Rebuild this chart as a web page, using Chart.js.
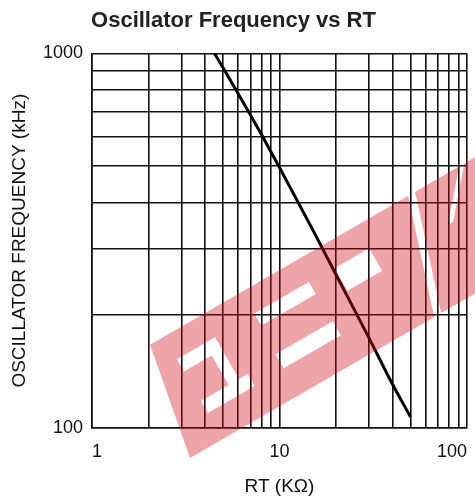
<!DOCTYPE html>
<html>
<head>
<meta charset="utf-8">
<script src="https://cdn.jsdelivr.net/npm/chart.js@4/dist/chart.umd.min.js"></script>
<style>
  html, body { margin: 0; padding: 0; background: #fff; }
  #wrap { width: 475px; height: 504px; position: relative; }
</style>
</head>
<body>
<div id="wrap"><canvas id="oscChart"></canvas></div>
<script>
// Oscillator frequency vs RT (log-log)

const rtValues = [4.5, 5, 6, 7, 8, 10, 15, 20, 30, 40, 50];
const freqValues = [1000, 915, 783, 685, 608, 496, 339, 257, 174, 131, 107];

const xGridTicks = [1, 2, 3, 4, 5, 6, 7, 8, 9, 10, 20, 30, 40, 50, 60, 70, 80, 90, 100];
const yGridTicks = [100, 200, 300, 400, 500, 600, 700, 800, 900, 1000];
const xLabelTicks = [1, 10, 100];
const yLabelTicks = [100, 1000];

Chart.defaults.font.family = '"Liberation Sans", Arial, sans-serif';
Chart.defaults.color = '#111';

// EEPW-style watermark: slanted red band with letter cut-outs (evenodd holes)
const wmBand = [[0, 0], [440, 0], [462, -118], [22, -118]];
const wmHoles = [
  [[38, -92], [82, -92], [82, -78], [38, -78]],
  [[70, -78], [82, -78], [82, -44], [70, -44]],
  [[38, -44], [92, -44], [92, -30], [38, -30]],
  [[128, -93], [191, -93], [191, -79], [128, -79]],
  [[126, -47], [192, -47], [192, -31], [126, -31]],
  [[220, -92], [260, -92], [260, -66], [220, -66]],
  [[282, 0], [290, 0], [328, -118], [320, -118]],
  [[340, -73], [346, -73], [385, -118], [379, -118]]
];

const watermark = {
  id: 'watermark',
  afterDraw(chart) {
    const ctx = chart.ctx;
    ctx.save();
    ctx.translate(190, 458);
    ctx.rotate(-Math.PI / 6);
    ctx.beginPath();
    [wmBand, ...wmHoles].forEach(poly => {
      poly.forEach(([x, y], i) => i ? ctx.lineTo(x, y) : ctx.moveTo(x, y));
      ctx.closePath();
    });
    ctx.fillStyle = 'rgba(205, 10, 25, 0.37)';
    ctx.fill('evenodd');
    ctx.restore();
  }
};

new Chart(document.getElementById('oscChart'), {
  type: 'scatter',
  data: {
    datasets: [{
      data: rtValues.map((x, i) => ({ x: x, y: freqValues[i] })),
      showLine: true,
      borderColor: '#000',
      borderWidth: 3,
      pointRadius: 0,
      cubicInterpolationMode: 'monotone'
    }]
  },
  options: {
    responsive: true,
    maintainAspectRatio: false,
    animation: false,
    layout: { padding: { left: 0, right: 8, top: 0, bottom: 0 } },
    plugins: {
      legend: { display: false },
      tooltip: { enabled: false },
      title: {
        display: true,
        text: 'Oscillator Frequency vs RT',
        color: '#222',
        font: { size: 22, weight: 'bold' },
        padding: { top: 8, bottom: 19 }
      }
    },
    scales: {
      x: {
        type: 'logarithmic',
        min: 1, max: 100,
        afterBuildTicks: s => { s.ticks = xGridTicks.map(v => ({ value: v })); },
        afterFit: s => { s.height = 76; s.paddingLeft = 0; s.paddingRight = 0; },
        grid: { color: '#111', lineWidth: 1.6, drawTicks: false },
        border: { color: '#111', width: 1.6 },
        ticks: {
          autoSkip: false, maxRotation: 0, align: 'inner', padding: 13,
          font: { size: 18 },
          callback: v => xLabelTicks.includes(v) ? String(v) : ''
        },
        title: {
          display: true, text: 'RT (KΩ)',
          font: { size: 19 }, padding: { top: 0, bottom: 6 }
        }
      },
      y: {
        type: 'logarithmic',
        min: 100, max: 1000,
        afterBuildTicks: s => { s.ticks = yGridTicks.map(v => ({ value: v })); },
        afterFit: s => { s.width = 92; s.paddingTop = 0; s.paddingBottom = 0; },
        grid: { color: '#111', lineWidth: 1.6, drawTicks: false },
        border: { color: '#111', width: 1.6 },
        ticks: {
          autoSkip: false, padding: 9,
          font: { size: 18 },
          callback: v => yLabelTicks.includes(v) ? String(v) : ''
        },
        title: {
          display: true, text: 'OSCILLATOR FREQUENCY (kHz)',
          font: { size: 19 }, padding: { top: 8, bottom: 0 }
        }
      }
    }
  },
  plugins: [watermark]
});
</script>
</body>
</html>
